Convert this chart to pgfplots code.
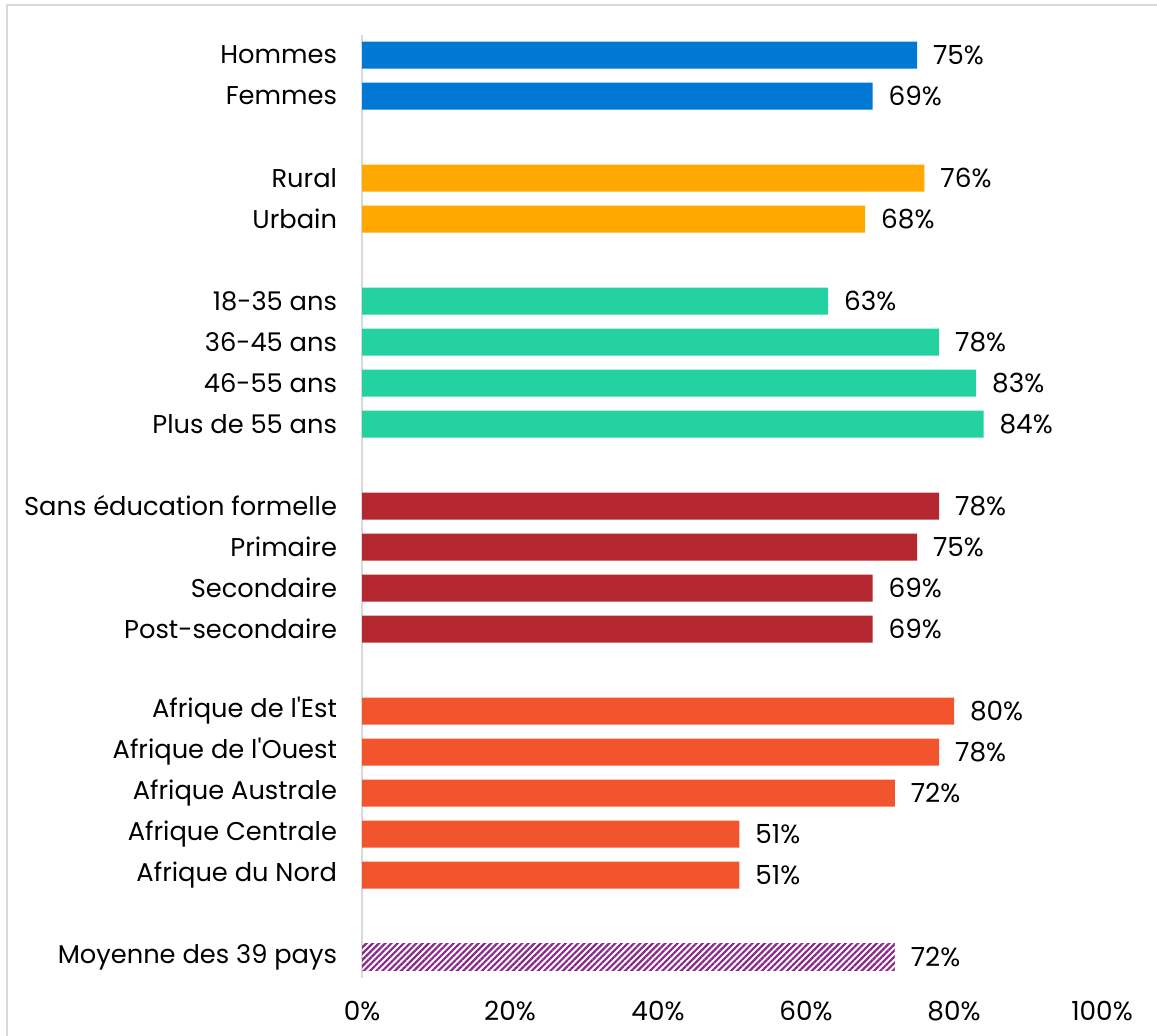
\documentclass[border=0pt]{standalone}
\usepackage{pgfplots}
\pgfplotsset{compat=1.18}
\usepackage{fontspec}
\setmainfont{Poppins}
\usetikzlibrary{patterns.meta}
\definecolor{cblue}{HTML}{0078D4}
\definecolor{cyel}{HTML}{FFA800}
\definecolor{cteal}{HTML}{24D1A0}
\definecolor{cred}{HTML}{B5282F}
\definecolor{corange}{HTML}{F2542D}
\definecolor{cpurp}{HTML}{8A2A8A}
\definecolor{cframe}{HTML}{D9D9D9}
\begin{document}
\begin{tikzpicture}
\useasboundingbox (0bp,0bp) rectangle (578.5bp,-518bp);
\draw[cframe, line width=1bp] (3.5bp,-2.5bp) rectangle (620bp,-620bp);
\begin{axis}[
  at={(181bp,-17.25bp)}, anchor=north west,
  scale only axis, width=370bp, height=471.5bp,
  xbar, bar width=13.5bp,
  every axis plot/.append style={bar shift=0pt, draw=none},
  xmin=0, xmax=100, ymin=-0.5, ymax=22.5, y dir=reverse,
  axis x line*=bottom, axis y line*=left,
  x axis line style={draw=none},
  y axis line style={draw=cframe, line width=1bp},
  major tick length=0pt,
  xtick={0,20,40,60,80,100},
  /pgf/number format/assume math mode=true,
  xticklabel={\pgfmathprintnumber{\tick}\%},
  xticklabel style={font=\fontsize{13.2}{16}\selectfont, yshift=-8.5bp},
  ytick={0,1,3,4,6,7,8,9,11,12,13,14,16,17,18,19,20,22},
  yticklabels={Hommes,Femmes,Rural,Urbain,18-35 ans,36-45 ans,46-55 ans,Plus de 55 ans,Sans éducation formelle,Primaire,Secondaire,Post-secondaire,Afrique de l\textquotesingle Est,Afrique de l\textquotesingle Ouest,Afrique Australe,Afrique Centrale,Afrique du Nord,Moyenne des 39 pays},
  yticklabel style={font=\fontsize{12.9}{16}\selectfont, xshift=-9bp},
  nodes near coords={\pgfmathprintnumber{\pgfplotspointmeta}\%},
  nodes near coords style={font=\fontsize{13.2}{16}\selectfont, anchor=west, xshift=4.5bp, black},
  point meta=x,
  clip=false,
]
\addplot[fill=cblue] coordinates {(75,0) (69,1)};
\addplot[fill=cyel] coordinates {(76,3) (68,4)};
\addplot[fill=cteal] coordinates {(63,6) (78,7) (83,8) (84,9)};
\addplot[fill=cred] coordinates {(78,11) (75,12) (69,13) (69,14)};
\addplot[fill=corange] coordinates {(80,16) (78,17) (72,18) (51,19) (51,20)};
\addplot[pattern={Lines[angle=45, distance=2.2bp, line width=1.1bp]}, pattern color=cpurp] coordinates {(72,22)};
\end{axis}
\end{tikzpicture}
\end{document}
